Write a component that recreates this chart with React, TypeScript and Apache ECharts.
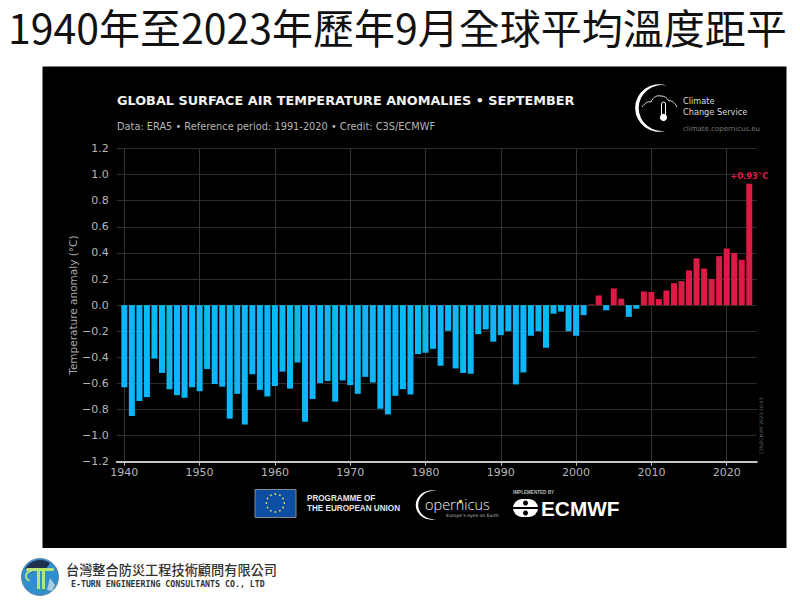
import React, { useEffect, useRef } from "react";
import * as echarts from "echarts";

const pageTitle = "1940年至2023年歷年9月全球平均溫度距平";
const chartTitle = "GLOBAL SURFACE AIR TEMPERATURE ANOMALIES • SEPTEMBER";
const chartSubtitle = "Data: ERA5 • Reference period: 1991-2020 • Credit: C3S/ECMWF";
const yAxisTitle = "Temperature anomaly (°C)";
const firstYear = 1940;
const anomalies = [
  -0.63, -0.85, -0.735, -0.705, -0.41, -0.52, -0.645, -0.69, -0.71, -0.63,
  -0.66, -0.49, -0.605, -0.625, -0.87, -0.68, -0.915, -0.53, -0.65, -0.70,
  -0.62, -0.51, -0.64, -0.44, -0.894, -0.72, -0.598, -0.582, -0.74, -0.577,
  -0.613, -0.68, -0.55, -0.593, -0.794, -0.838, -0.695, -0.644, -0.685, -0.375,
  -0.365, -0.335, -0.465, -0.197, -0.485, -0.52, -0.526, -0.222, -0.186, -0.28,
  -0.23, -0.20, -0.608, -0.516, -0.235, -0.20, -0.327, -0.066, -0.05, -0.20,
  -0.235, -0.077, 0.005, 0.074, -0.04, 0.128, 0.05, -0.09, -0.028, 0.105,
  0.10, 0.046, 0.112, 0.168, 0.184, 0.266, 0.358, 0.28, 0.20, 0.375,
  0.434, 0.40, 0.347, 0.93,
];
const highlightLabel = "+0.93°C";
// one blank slot on each side gives the axis its overhang past the first and last bars
const categories = ["", ...anomalies.map((_, i) => String(firstYear + i)), ""];
const BLUE = "#0db6f8";
const RED = "#dc1a45";
const MONO = "'DejaVu Sans', sans-serif";

echarts.graphic.registerShape(
  "crescent",
  echarts.graphic.extendPath("M 30 -90 A 95 95 0 1 0 30 90 A 92 92 0 1 1 30 -90 Z", {})
);
echarts.graphic.registerShape(
  "cloud",
  echarts.graphic.extendPath(
    "M 0 12 C 3 8 6 6 9 7 C 11 2 15 0 19 1 C 23 1 25 3 27 6 C 30 5 33 8 35 12",
    {}
  )
);

const white = "#ffffff";
const txt = (x: number, y: number, text: string, font: object) => ({
  type: "text",
  x,
  y,
  silent: true,
  style: { text, verticalAlign: "middle", align: "left", ...font },
});

const euStars = Array.from({ length: 12 }, (_, i) => ({
  type: "circle",
  shape: {
    cx: 275.3 + 9 * Math.cos((i * Math.PI) / 6),
    cy: 503 + 9 * Math.sin((i * Math.PI) / 6),
    r: 0.9,
  },
  style: { fill: "#e8d84a" },
}));

const graphics: any[] = [
  // C3S logo
  { type: "crescent", x: 659, y: 108, scaleX: 0.25, scaleY: 0.25, style: { fill: white } },
  { type: "cloud", x: 642, y: 95, style: { fill: "none", stroke: "#dddddd", lineWidth: 1 } },
  { type: "rect", shape: { x: 661.5, y: 102, width: 4, height: 14, r: 2 }, style: { fill: "#000", stroke: white, lineWidth: 1 } },
  { type: "circle", shape: { cx: 663.5, cy: 117.5, r: 3.6 }, style: { fill: white } },
  txt(683, 101, "Climate", { font: "8.2px 'DejaVu Sans'", fill: "#dddddd" }),
  txt(683, 111.5, "Change Service", { font: "8.2px 'DejaVu Sans'", fill: "#dddddd" }),
  txt(683, 129, "climate.copernicus.eu", { font: "7px 'DejaVu Sans'", fill: "#777777" }),
  // production stamp
  {
    type: "text",
    x: 761,
    y: 426,
    rotation: Math.PI / 2,
    silent: true,
    style: { text: "C3S/ECMWF 2023-10-03", align: "center", verticalAlign: "middle", font: "4.7px 'DejaVu Sans'", fill: "#666666" },
  },
  // EU
  { type: "rect", shape: { x: 255, y: 489.5, width: 41, height: 28 }, style: { fill: "#0b4ea2", stroke: "#8a8a8a", lineWidth: 1 } },
  ...euStars,
  txt(307, 498.5, "PROGRAMME OF", { font: "bold 8.15px 'Liberation Sans'", fill: "#e6e6e6" }),
  txt(307, 508.5, "THE EUROPEAN UNION", { font: "bold 8.15px 'Liberation Sans'", fill: "#e6e6e6" }),
  // Copernicus
  { type: "crescent", x: 432, y: 505, scaleX: 0.17, scaleY: 0.155, style: { fill: white } },
  txt(425, 504.5, "opernicus", { font: "300 14.5px 'Open Sans'", fill: "#f0f0f0" }),
  { type: "circle", shape: { cx: 460.5, cy: 501.5, r: 1.8 }, style: { fill: "#f2d65a" } },
  txt(446, 515.5, "Europe's eyes on Earth", { font: "4.6px 'DejaVu Sans'", fill: "#bbbbbb" }),
  // ECMWF
  txt(513, 492, "IMPLEMENTED BY", { font: "bold 4.6px 'Liberation Sans'", fill: "#bbbbbb" }),
  { type: "rect", shape: { x: 513, y: 499, width: 25, height: 18, r: 9 }, style: { fill: white } },
  { type: "rect", shape: { x: 513, y: 507, width: 25, height: 2 }, style: { fill: "#000" } },
  { type: "circle", shape: { cx: 525.5, cy: 503, r: 2.5 }, style: { fill: "#000" } },
  { type: "circle", shape: { cx: 525.5, cy: 513, r: 2.5 }, style: { fill: "#000" } },
  txt(541, 508.5, "ECMWF", { font: "bold 20.8px 'Liberation Sans'", fill: white }),
  // company logo and name
  { type: "circle", shape: { cx: 40, cy: 577, r: 18.5 }, style: { fill: "#2f8ecb", stroke: "#5f86a8", lineWidth: 1 } },
  { type: "sector", shape: { cx: 40, cy: 577, r: 17, r0: 9, startAngle: Math.PI * 1.15, endAngle: Math.PI * 1.7 }, style: { fill: "#20304f" } },
  { type: "rect", shape: { x: 26, y: 568, width: 28, height: 3, r: 1.5 }, style: { fill: "#b7e27c" } },
  { type: "rect", shape: { x: 37, y: 569, width: 3, height: 20 }, style: { fill: "#b7e27c" } },
  { type: "rect", shape: { x: 42, y: 569, width: 3, height: 20 }, style: { fill: "#b7e27c" } },
  { type: "arc", shape: { cx: 31, cy: 576, r: 5, startAngle: Math.PI * 0.6, endAngle: Math.PI * 1.6 }, style: { stroke: "#b7e27c", lineWidth: 2, fill: "none" } },
  { type: "polygon", shape: { points: [[47, 590], [50, 578], [55, 585], [52, 591]] }, style: { fill: "#a8cfe0" } },
  txt(66, 569.5, "台灣整合防災工程技術顧問有限公司", { font: "500 13.2px 'Noto Sans CJK TC'", fill: "#333333" }),
  txt(71, 584, "E-TURN ENGINEERING CONSULTANTS CO., LTD", { font: "bold 8.25px 'DejaVu Sans Mono'", fill: "#333333" }),
];

export default function App() {
  const ref = useRef<HTMLDivElement>(null);
  useEffect(() => {
    const chart = echarts.init(ref.current!, null, { renderer: "svg" });
    const everyTen = (_: number, value: string) => value !== "" && Number(value) % 10 === 0;
    chart.setOption({
      animation: false,
      backgroundColor: "#ffffff",
      title: [
        { text: pageTitle, left: 8, top: 5, padding: 0, textStyle: { fontFamily: "'Noto Sans CJK TC'", fontSize: 41, fontWeight: 400, color: "#111111" } },
        { text: chartTitle, left: 117, top: 93.5, padding: 0, textStyle: { fontFamily: MONO, fontSize: 12.82, fontWeight: "bold", color: "#f0f0f0" } },
        { text: chartSubtitle, left: 117, top: 121, padding: 0, textStyle: { fontFamily: MONO, fontSize: 9.8, fontWeight: "normal", color: "#b5b5b5" } },
      ],
      graphic: {
        elements: [
          { type: "rect", z: -10, silent: true, shape: { x: 42.5, y: 66.5, width: 744, height: 481.5 }, style: { fill: "#000000" } },
          ...graphics,
        ],
      },
      grid: { left: 116.8, top: 148.5, width: 640, height: 313.2 },
      xAxis: {
        type: "category",
        data: categories,
        boundaryGap: false,
        axisLine: { onZero: false, lineStyle: { color: "#c4c4c4", width: 2 } },
        axisTick: { interval: everyTen, length: 4, lineStyle: { color: "#c4c4c4", width: 1 } },
        axisLabel: { interval: everyTen, color: "#b5b5b5", fontFamily: MONO, fontSize: 11, margin: 5 },
        splitLine: { show: true, interval: everyTen, lineStyle: { color: "#333333", width: 1 } },
      },
      yAxis: {
        type: "value",
        min: -1.2,
        max: 1.2,
        interval: 0.2,
        name: yAxisTitle,
        nameLocation: "middle",
        nameGap: 38,
        nameMoveOverlap: false,
        nameTextStyle: { color: "#a8a8a8", fontFamily: MONO, fontSize: 10.5 },
        axisLine: { show: false },
        axisTick: { show: false },
        axisLabel: {
          color: "#b5b5b5",
          fontFamily: MONO,
          fontSize: 11,
          margin: 8,
          formatter: (v: number) => v.toFixed(1).replace("-", "\u2212"),
        },
        splitLine: { show: true, lineStyle: { color: "#2e2e2e", width: 1 } },
      },
      series: [
        {
          type: "bar",
          barWidth: 6,
          data: [null, ...anomalies, null].map((v, i) =>
            v === null
              ? null
              : {
                  value: v,
                  itemStyle: { color: v < 0 ? BLUE : RED },
                  ...(i === anomalies.length
                    ? { label: { show: true, position: "top", distance: 4, formatter: highlightLabel, color: RED, fontFamily: MONO, fontSize: 8.4, fontWeight: "bold" } }
                    : {}),
                }
          ),
        },
      ],
    });
    return () => chart.dispose();
  }, []);
  return <div ref={ref} style={{ position: "fixed", left: 0, top: 0, width: 800, height: 600 }} />;
}
